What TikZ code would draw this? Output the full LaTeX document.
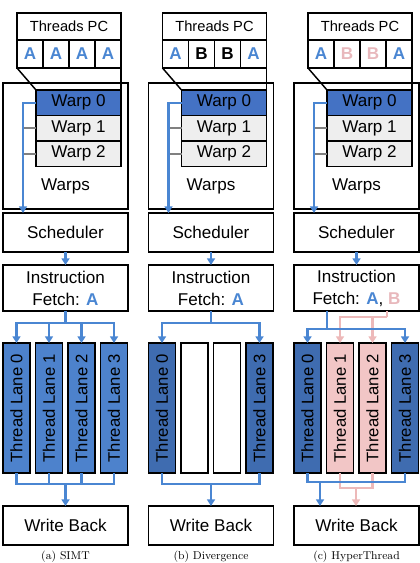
\documentclass[tikz,border=0pt]{standalone}
\usepackage{fontspec}
\usepackage{graphicx}
\usepackage{tikz}
\usetikzlibrary{arrows.meta}
\newfontfamily\diagfont{Liberation Sans}
\definecolor{warpblue}{HTML}{4472C4}
\definecolor{laneblue}{HTML}{4D82CC}
\definecolor{darklane}{HTML}{3F6CB0}
\definecolor{pcblue}{HTML}{4A86D2}
\definecolor{pcpink}{HTML}{E8B8BC}
\definecolor{pinkline}{HTML}{EDB9B9}
\definecolor{lanepink}{HTML}{F2C6C6}
\definecolor{warpgray}{HTML}{EEEEEE}

\begin{document}
\begin{tikzpicture}[x=0.75pt,y=0.75pt,yscale=-1,xscale=1,
  box/.style={draw, line width=1.1pt, inner sep=0pt, outer sep=0pt, font=\diagfont\fontsize{12.8}{16.5}\selectfont},
  panel/.style={box, minimum width=93.75pt},
  pctitle/.style={box, minimum width=78pt, minimum height=20.25pt, font=\diagfont\fontsize{11}{13}\selectfont},
  pccell/.style={box, minimum width=19.5pt, minimum height=21pt, font=\diagfont\bfseries\fontsize{12.8}{15}\selectfont},
  warp/.style={box, fill=warpgray, minimum width=63.75pt, minimum height=19.125pt},
  lane/.style={box, minimum width=20.25pt, minimum height=97.5pt, font=\diagfont\fontsize{12.5}{15}\selectfont},
  plain/.style={inner sep=0pt, font=\diagfont\fontsize{12.8}{15}\selectfont},
  subcap/.style={anchor=base, inner sep=0pt, font=\fontsize{8.5}{10}\selectfont},
  bline/.style={draw=pcblue, line width=1.7pt},
  bflow/.style={bline, -{Triangle[width=6pt,length=5pt]}},
  pline/.style={draw=pinkline, line width=1.7pt},
  pflow/.style={pline, -{Triangle[width=6pt,length=5pt]}},
  stub/.style={draw=gray, line width=1.7pt}]
\useasboundingbox (0,0) rectangle (420,563);

%%%%%%%%%%%%%%%% (a) SIMT
% Threads PC
\node[pctitle] (a-pc) at (69,26.5) {Threads PC};
\node[pccell, text=pcblue] (a-pc1) at (30,54) {A};
\node[pccell, text=pcblue] (a-pc2) at (56,54) {A};
\node[pccell, text=pcblue] (a-pc3) at (82,54) {A};
\node[pccell, text=pcblue] (a-pc4) at (108,54) {A};
% Warps
\node[panel, minimum height=94.5pt] (a-warps) at (65.5,146) {};
\node[warp, fill=warpblue] (a-w0) at (78.5,102.75) {Warp 0};
\node[warp] (a-w1) at (78.5,128.25) {Warp 1};
\node[warp] (a-w2) at (78.5,153.75) {Warp 2};
\node[plain] (a-wlbl) at (65.5,186) {Warps};
\draw[line width=1.1pt] (a-pc1.south west) -- (a-w0.north west);
\draw[line width=1.1pt] (a-pc4.south east) -- (a-w0.north east);
% Pipeline
\node[panel, minimum height=29.25pt] (a-sched) at (65.5,232.5) {Scheduler};
\node[panel, minimum height=34.5pt, align=center] (a-fetch) at (65.5,288) {Instruction\\Fetch: \textcolor{pcblue}{\textbf{A}}};
\node[lane, fill=laneblue] (a-l0) at (16.5,408) {\rotatebox{90}{Thread Lane 0}};
\node[lane, fill=laneblue] (a-l1) at (49,408) {\rotatebox{90}{Thread Lane 1}};
\node[lane, fill=laneblue] (a-l2) at (81.5,408) {\rotatebox{90}{Thread Lane 2}};
\node[lane, fill=laneblue] (a-l3) at (114,408) {\rotatebox{90}{Thread Lane 3}};
\node[panel, minimum height=29.25pt] (a-wb) at (65.5,525.5) {Write Back};
\node[subcap] (a-cap) at (65.5,559.5) {(a) SIMT};
% connectors
\coordinate (a-bus) at ([xshift=15pt]a-sched.north west);
\coordinate (a-split) at (65.5,323);
\coordinate (a-merge) at (65.5,484);
\draw[stub] (a-w1.west) -- (a-w1.west -| a-bus);
\draw[stub] (a-w2.west) -- (a-w2.west -| a-bus);
\draw[bflow] (a-w0.west) -| (a-bus);
\draw[bflow] (a-sched.south) -- (a-fetch.north);
\draw[bline] (a-fetch.south) -- (a-split);
\draw[bflow] (a-split) -| (a-l0.north);
\draw[bflow] (a-split) -| (a-l1.north);
\draw[bflow] (a-split) -| (a-l2.north);
\draw[bflow] (a-split) -| (a-l3.north);
\draw[bline] (a-l0.south) |- (a-merge);
\draw[bline] (a-l1.south) |- (a-merge);
\draw[bline] (a-l2.south) |- (a-merge);
\draw[bline] (a-l3.south) |- (a-merge);
\draw[bflow] (a-merge) -- (a-wb.north);

%%%%%%%%%%%%%%%% (b) Divergence
\begin{scope}[shift={(145.5,0)}]
% Threads PC
\node[pctitle] (b-pc) at (69,26.5) {Threads PC};
\node[pccell, text=pcblue] (b-pc1) at (30,54) {A};
\node[pccell] (b-pc2) at (56,54) {B};
\node[pccell] (b-pc3) at (82,54) {B};
\node[pccell, text=pcblue] (b-pc4) at (108,54) {A};
% Warps
\node[panel, minimum height=94.5pt] (b-warps) at (65.5,146) {};
\node[warp, fill=warpblue] (b-w0) at (78.5,102.75) {Warp 0};
\node[warp] (b-w1) at (78.5,128.25) {Warp 1};
\node[warp] (b-w2) at (78.5,153.75) {Warp 2};
\node[plain] (b-wlbl) at (65.5,186) {Warps};
\draw[line width=1.1pt] (b-pc1.south west) -- (b-w0.north west);
\draw[line width=1.1pt] (b-pc4.south east) -- (b-w0.north east);
% Pipeline
\node[panel, minimum height=29.25pt] (b-sched) at (65.5,232.5) {Scheduler};
\node[panel, minimum height=34.5pt, align=center] (b-fetch) at (65.5,288) {Instruction\\Fetch: \textcolor{pcblue}{\textbf{A}}};
\node[lane, fill=darklane] (b-l0) at (16.5,408) {\rotatebox{90}{Thread Lane 0}};
\node[lane] (b-l1) at (49,408) {};
\node[lane] (b-l2) at (81.5,408) {};
\node[lane, fill=darklane] (b-l3) at (114,408) {\rotatebox{90}{Thread Lane 3}};
\node[panel, minimum height=29.25pt] (b-wb) at (65.5,525.5) {Write Back};
\node[subcap] (b-cap) at (65.5,559.5) {(b) Divergence};
% connectors
\coordinate (b-bus) at ([xshift=15pt]b-sched.north west);
\coordinate (b-split) at (65.5,323);
\coordinate (b-merge) at (65.5,484);
\draw[stub] (b-w1.west) -- (b-w1.west -| b-bus);
\draw[stub] (b-w2.west) -- (b-w2.west -| b-bus);
\draw[bflow] (b-w0.west) -| (b-bus);
\draw[bflow] (b-sched.south) -- (b-fetch.north);
\draw[bline] (b-fetch.south) -- (b-split);
\draw[bflow] (b-split) -| (b-l0.north);
\draw[bflow] (b-split) -| (b-l3.north);
\draw[bline] (b-l0.south) |- (b-merge);
\draw[bline] (b-l3.south) |- (b-merge);
\draw[bflow] (b-merge) -- (b-wb.north);
\end{scope}

%%%%%%%%%%%%%%%% (c) HyperThread
\begin{scope}[shift={(291,0)}]
% Threads PC
\node[pctitle] (c-pc) at (69,26.5) {Threads PC};
\node[pccell, text=pcblue] (c-pc1) at (30,54) {A};
\node[pccell, text=pcpink] (c-pc2) at (56,54) {B};
\node[pccell, text=pcpink] (c-pc3) at (82,54) {B};
\node[pccell, text=pcblue] (c-pc4) at (108,54) {A};
% Warps
\node[panel, minimum height=94.5pt] (c-warps) at (65.5,146) {};
\node[warp, fill=warpblue] (c-w0) at (78.5,102.75) {Warp 0};
\node[warp] (c-w1) at (78.5,128.25) {Warp 1};
\node[warp] (c-w2) at (78.5,153.75) {Warp 2};
\node[plain] (c-wlbl) at (65.5,186) {Warps};
\draw[line width=1.1pt] (c-pc1.south west) -- (c-w0.north west);
\draw[line width=1.1pt] (c-pc4.south east) -- (c-w0.north east);
% Pipeline
\node[panel, minimum height=29.25pt] (c-sched) at (65.5,232.5) {Scheduler};
\node[panel, minimum height=34.5pt, align=center] (c-fetch) at (65.5,288) {Instruction\\Fetch: \textcolor{pcblue}{\textbf{A}}, \textcolor{pcpink}{\textbf{B}}};
\node[lane, fill=darklane] (c-l0) at (16.5,408) {\rotatebox{90}{Thread Lane 0}};
\node[lane, fill=lanepink] (c-l1) at (49,408) {\rotatebox{90}{Thread Lane 1}};
\node[lane, fill=lanepink] (c-l2) at (81.5,408) {\rotatebox{90}{Thread Lane 2}};
\node[lane, fill=darklane] (c-l3) at (114,408) {\rotatebox{90}{Thread Lane 3}};
\node[panel, minimum height=29.25pt] (c-wb) at (65.5,525.5) {Write Back};
\node[subcap] (c-cap) at (65.5,559.5) {(c) HyperThread};
% connectors
\coordinate (c-bus) at ([xshift=15pt]c-sched.north west);
\coordinate (c-psplit) at (96,317);
\coordinate (c-bsplit) at (36,329);
\coordinate (c-pmerge) at (65,488);
\coordinate (c-bmerge) at (29,482);
\draw[stub] (c-w1.west) -- (c-w1.west -| c-bus);
\draw[stub] (c-w2.west) -- (c-w2.west -| c-bus);
\draw[bflow] (c-w0.west) -| (c-bus);
\draw[bflow] (c-sched.south) -- (c-fetch.north);
% B path
\draw[pline] (c-fetch.south -| c-psplit) -- (c-psplit);
\draw[pflow] (c-psplit) -| (c-l1.north);
\draw[pflow] (c-psplit) -| (c-l2.north);
\draw[pline] (c-l1.south) |- (c-pmerge);
\draw[pline] (c-l2.south) |- (c-pmerge);
\draw[pflow] (c-pmerge) -- (c-wb.north -| c-pmerge);
% A path
\draw[bline] (c-fetch.south -| c-bsplit) -- (c-bsplit);
\draw[bflow] (c-bsplit) -| (c-l0.north);
\draw[bflow] (c-bsplit) -| (c-l3.north);
\draw[bline] (c-l0.south) |- (c-bmerge);
\draw[bline] (c-l3.south) |- (c-bmerge);
\draw[bflow] (c-bmerge) -- (c-wb.north -| c-bmerge);
\end{scope}

\end{tikzpicture}
\end{document}
